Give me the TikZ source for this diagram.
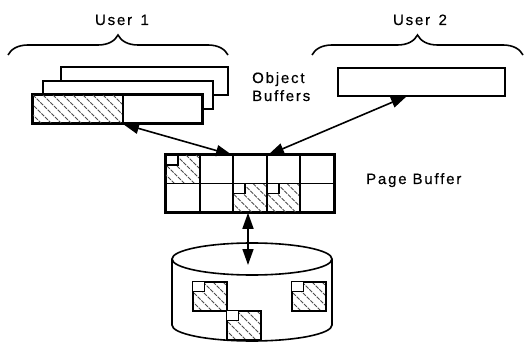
\documentclass[tikz,border=0pt]{standalone}
\usepackage{fontspec}
\setmainfont{Liberation Sans}
\usetikzlibrary{arrows.meta,decorations.pathreplacing,calc}

% hatched rectangle area: \hatcharea{x1}{y1}{x2}{y2}
\newcommand\hatcharea[4]{%
  \begin{scope}
    \clip (#1,#2) rectangle (#3,#4);
    \foreach \k in {-50,-40,...,110}{\draw[hatchline] ({#1+\k},#2) -- ++(60,60);}
  \end{scope}}

\begin{document}
\begin{tikzpicture}[x=1pt,y=-1pt,
  box/.style={draw,line width=1.6pt,fill=white,inner sep=0pt},
  edge/.style={line width=1.6pt},
  hatchline/.style={gray!60!black,line width=0.9pt,dash pattern=on 4pt off 1.2pt},
  corner/.style={draw,line width=1.2pt,fill=white},
  link/.style={line width=1.6pt,{Triangle[length=16pt,width=11pt]}-{Triangle[length=16pt,width=11pt]}},
  ubrace/.style={decorate,decoration={brace,amplitude=20pt},line width=1.6pt},
  lbl/.style={font=\fontsize{15}{18}\selectfont\addfontfeature{LetterSpace=12,FakeBold=0.5},inner sep=0pt}
]
\useasboundingbox (0,0) rectangle (525,342);

% ---- user 1: three stacked object buffers ----
\node[box,minimum width=167pt,minimum height=28pt] (back) at (144.5,81) {};
\node[box,minimum width=170pt,minimum height=28pt] (mid) at (128,95) {};
\node[box,minimum width=169pt,minimum height=28pt] (front) at (117.5,109) {};
\hatcharea{33}{95}{123}{123}
\draw[edge] (front.north west) rectangle (front.south east);
\draw[edge] (123,95) -- (123,123);

% ---- user 2: one object buffer ----
\node[box,minimum width=167pt,minimum height=28pt] (ubox) at (421.5,82) {};

% ---- braces and user labels ----
\draw[ubrace] (8,55) -- (228,55) node[midway] (b1) {};
\draw[ubrace] (312,55) -- (523,55) node[midway] (b2) {};
\node[lbl,anchor=base] (u1) at (122,25) {User\, 1};
\node[lbl,anchor=base] (u2) at (420,25) {User\, 2};

\node[lbl,anchor=base west,align=left] (ob) at (252,83) {Object};
\node[lbl,anchor=base west,align=left] (obb) at (252,101) {Buffers};

% ---- page buffer: 5 x 2 grid of pages ----
\node[draw,line width=1.6pt,minimum width=168pt,minimum height=57pt,inner sep=0pt] (page) at (250,183.5) {};
\hatcharea{166}{155}{200}{183.5}
\hatcharea{233}{183.5}{267}{212}
\hatcharea{267}{183.5}{300}{212}
\draw[corner] (166,155) rectangle ++(12,10);
\draw[corner] (233,183.5) rectangle ++(12,10);
\draw[corner] (267,183.5) rectangle ++(12,10);
\foreach \cx in {200,233,267,300}{\draw[edge] (\cx,155) -- (\cx,212);}
\draw[edge] (166,183.5) -- (334,183.5);
\draw[edge] (page.north west) rectangle (page.south east);
\node[lbl,anchor=base west] (pb) at (366,184) {Page Buffer};

% ---- disk ----
\draw[edge,fill=white] (172,259) -- (172,325) arc[start angle=180,end angle=360,x radius=80,y radius=-16] -- (332,259);
\draw[edge,fill=white] (252,259) ellipse[x radius=80,y radius=16];
\node[inner sep=0pt,minimum width=34pt,minimum height=29pt] (dp1) at (210,296.5) {};
\node[inner sep=0pt,minimum width=34pt,minimum height=29pt] (dp2) at (244,325.5) {};
\node[inner sep=0pt,minimum width=34pt,minimum height=29pt] (dp3) at (309,296.5) {};
\hatcharea{193}{282}{227}{311}
\hatcharea{227}{311}{261}{340}
\hatcharea{292}{282}{326}{311}
\foreach \p in {dp1,dp2,dp3}{
  \draw[edge] (\p.north west) rectangle (\p.south east);
  \draw[corner] (\p.north west) rectangle ++(12,10);
}

% ---- transfers ----
\coordinate (f1) at (123,124);
\coordinate (p1) at (232,155);
\coordinate (u2s) at (407,96);
\coordinate (p2) at (268,155);
\coordinate (dtop) at (248,265);
\draw[link] (f1) -- (p1);
\draw[link] (u2s) -- (p2);
\draw[link] ($(page.south)+(-2,0)$) -- (dtop);
\end{tikzpicture}
\end{document}
